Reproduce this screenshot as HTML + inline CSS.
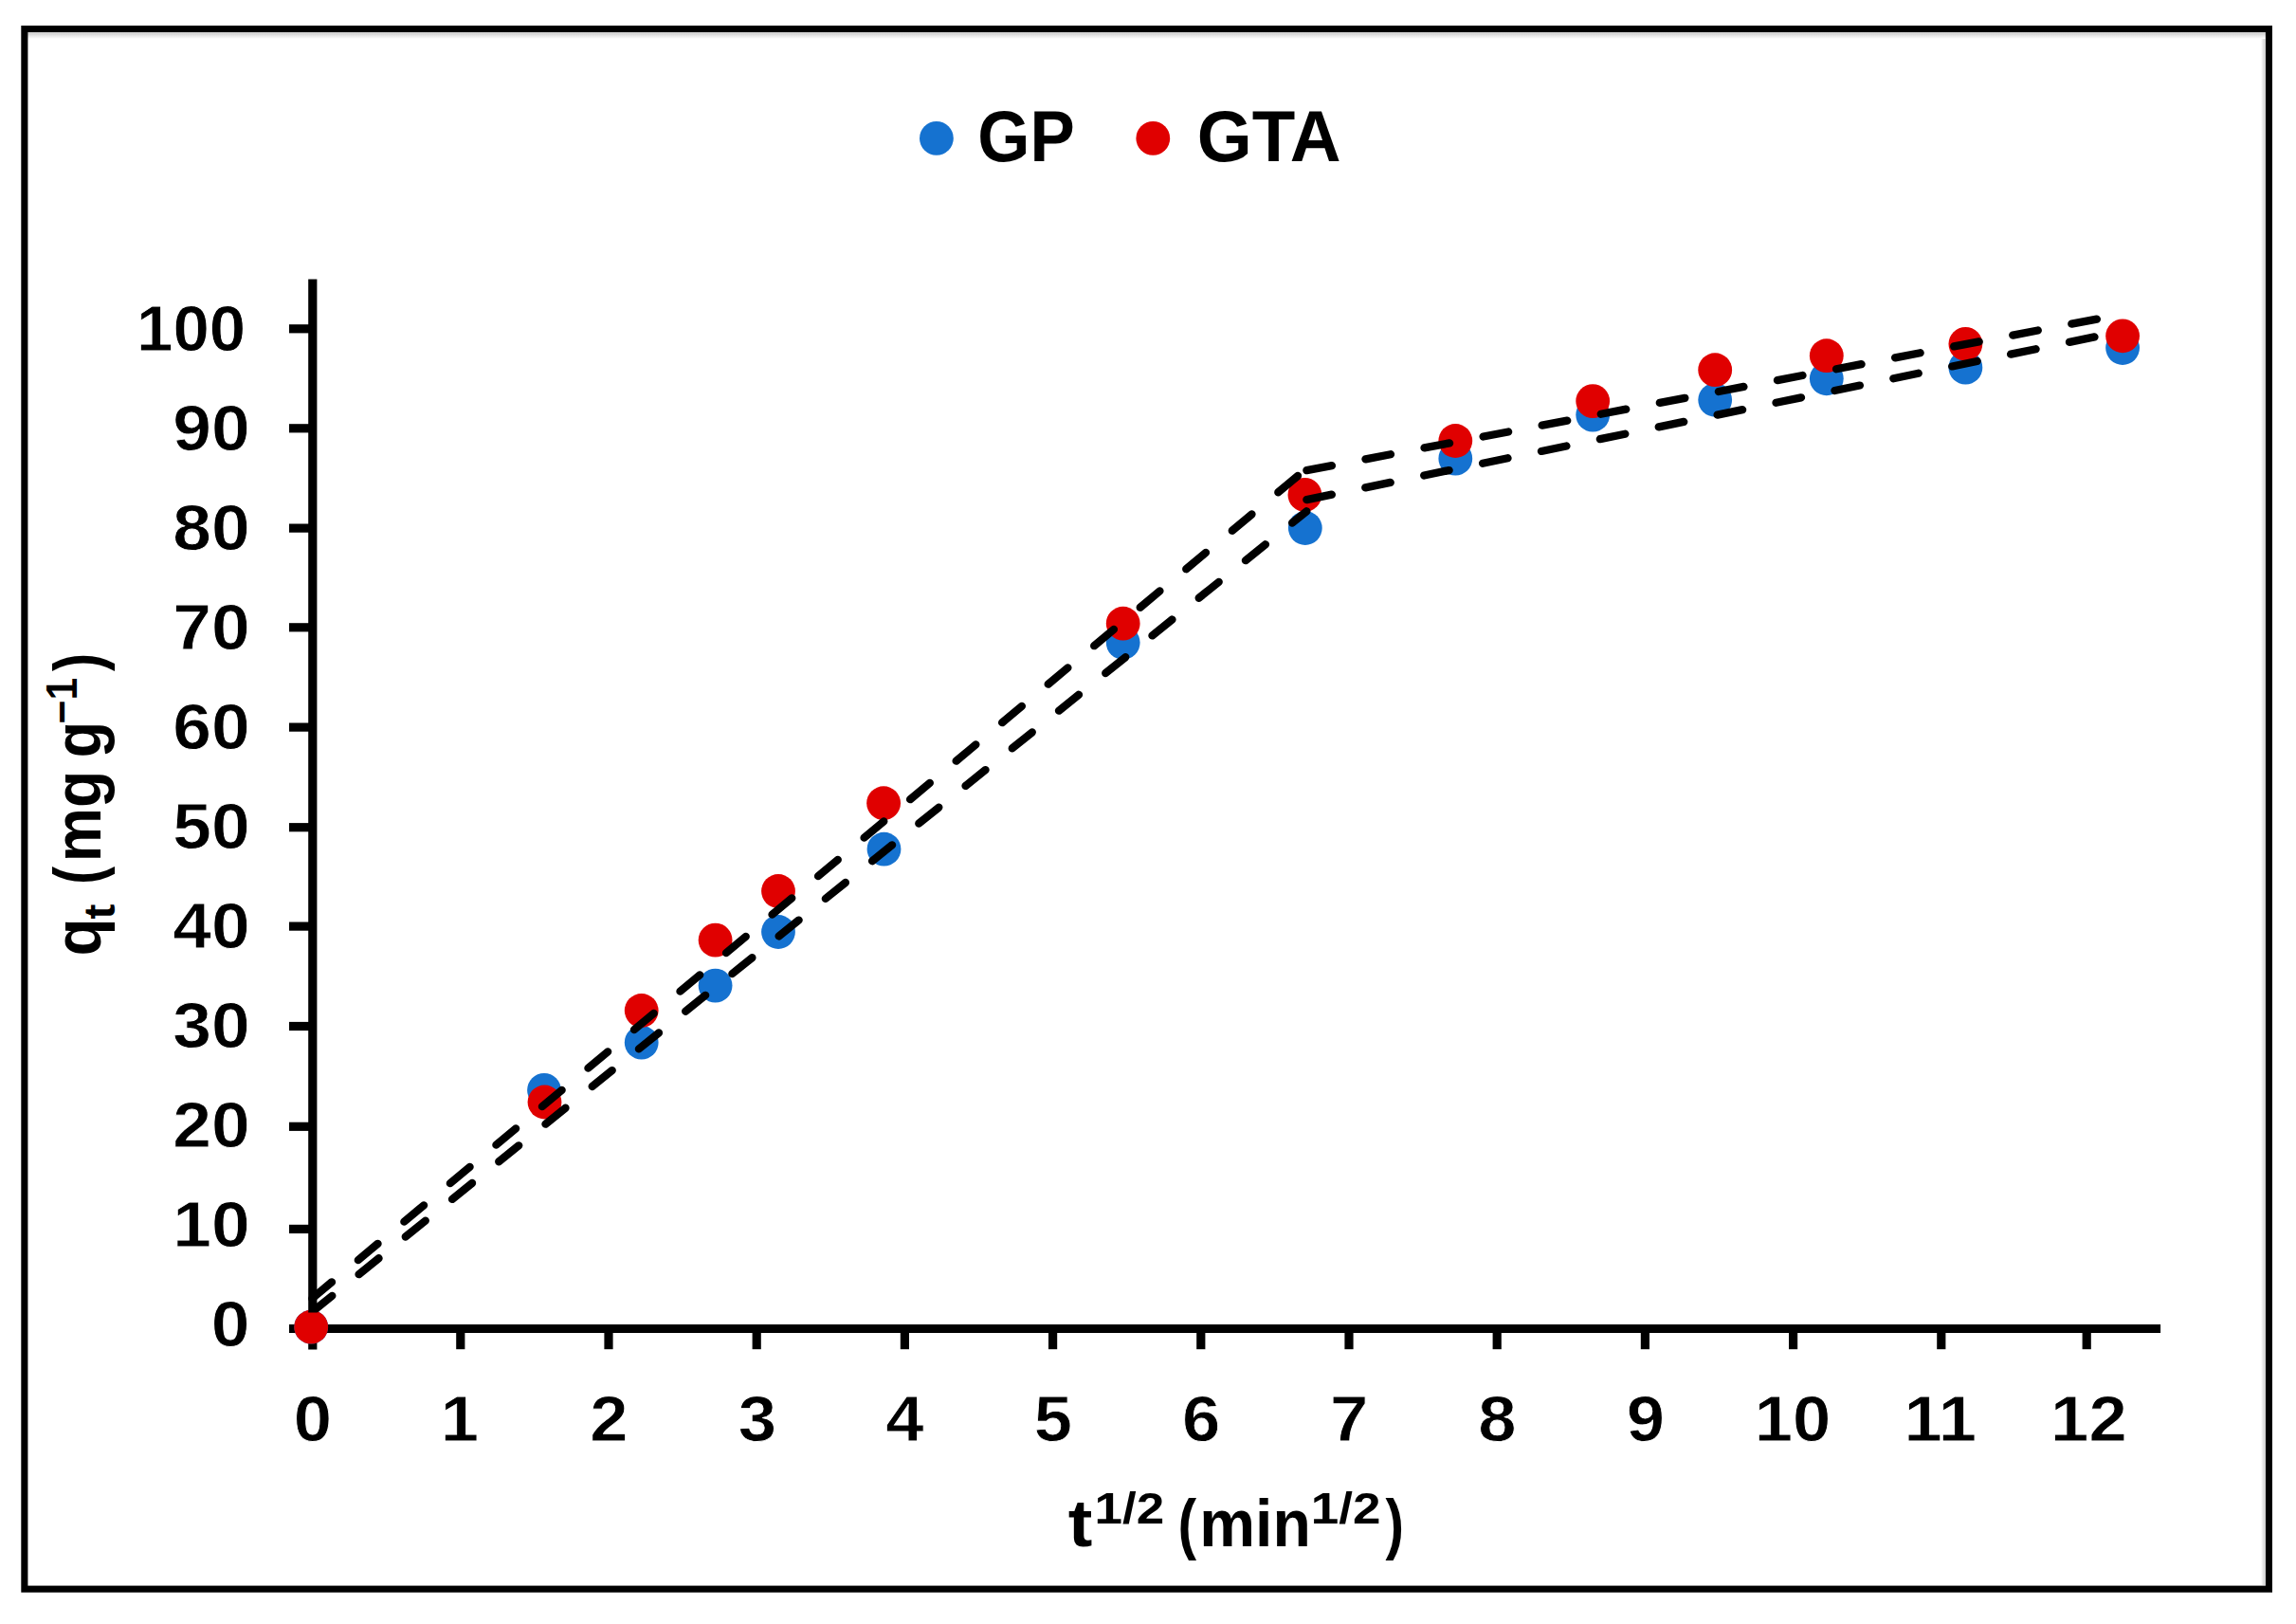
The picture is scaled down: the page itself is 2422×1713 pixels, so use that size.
<!DOCTYPE html>
<html lang="en"><head><meta charset="utf-8"><title>Intraparticle diffusion plot</title>
<style>html,body{margin:0;padding:0;background:#fff;}body{width:2422px;height:1713px;overflow:hidden;}svg{display:block;}text,.lb{font-family:"Liberation Sans",sans-serif;font-weight:bold;}</style>
</head><body>
<svg width="2422" height="1713" viewBox="0 0 2422 1713">
<rect x="0" y="0" width="2422" height="1713" fill="#fff"/>
<defs><linearGradient id="gt" x1="0" y1="0" x2="0" y2="1"><stop offset="0" stop-color="#fff"/><stop offset="0.22" stop-color="#d2d2d2"/><stop offset="0.45" stop-color="#e2e2e2"/><stop offset="1" stop-color="#fff"/></linearGradient><linearGradient id="gr" x1="0" y1="0" x2="1" y2="0"><stop offset="0" stop-color="#fff"/><stop offset="0.55" stop-color="#e0e0e0"/><stop offset="0.8" stop-color="#d3d3d3"/><stop offset="1" stop-color="#fff"/></linearGradient></defs>
<rect x="2385" y="38" width="5" height="1634" fill="url(#gr)"/>
<rect x="29" y="34" width="2361" height="7" fill="url(#gt)"/>
<rect x="25.85" y="30.55" width="2367.60" height="1645.60" fill="none" stroke="#000" stroke-width="7.1"/>
<g stroke="#000" stroke-width="9.2" fill="none">
<line x1="329.8" y1="294.5" x2="329.8" y2="1423.5"/>
<line x1="305" y1="1401.5" x2="2279.1" y2="1401.5"/>
<line x1="305" y1="346.80" x2="329.8" y2="346.80"/>
<line x1="305" y1="451.80" x2="329.8" y2="451.80"/>
<line x1="305" y1="557.10" x2="329.8" y2="557.10"/>
<line x1="305" y1="661.80" x2="329.8" y2="661.80"/>
<line x1="305" y1="767.10" x2="329.8" y2="767.10"/>
<line x1="305" y1="872.70" x2="329.8" y2="872.70"/>
<line x1="305" y1="977.10" x2="329.8" y2="977.10"/>
<line x1="305" y1="1082.50" x2="329.8" y2="1082.50"/>
<line x1="305" y1="1188.30" x2="329.8" y2="1188.30"/>
<line x1="305" y1="1296.40" x2="329.8" y2="1296.40"/>
<line x1="485.80" y1="1401.5" x2="485.80" y2="1423.2"/>
<line x1="642.00" y1="1401.5" x2="642.00" y2="1423.2"/>
<line x1="798.20" y1="1401.5" x2="798.20" y2="1423.2"/>
<line x1="954.40" y1="1401.5" x2="954.40" y2="1423.2"/>
<line x1="1110.60" y1="1401.5" x2="1110.60" y2="1423.2"/>
<line x1="1266.80" y1="1401.5" x2="1266.80" y2="1423.2"/>
<line x1="1423.00" y1="1401.5" x2="1423.00" y2="1423.2"/>
<line x1="1579.20" y1="1401.5" x2="1579.20" y2="1423.2"/>
<line x1="1735.40" y1="1401.5" x2="1735.40" y2="1423.2"/>
<line x1="1891.60" y1="1401.5" x2="1891.60" y2="1423.2"/>
<line x1="2047.80" y1="1401.5" x2="2047.80" y2="1423.2"/>
<line x1="2201.20" y1="1401.5" x2="2201.20" y2="1423.2"/>
</g>
<g class="lb" font-size="69.0" fill="#000" stroke="#fff" stroke-width="0.8">
<text x="222.81" y="1420.40" textLength="40.68" lengthAdjust="spacingAndGlyphs">0</text>
<text x="182.34" y="1315.33" textLength="81.36" lengthAdjust="spacingAndGlyphs">10</text>
<text x="182.34" y="1210.26" textLength="81.36" lengthAdjust="spacingAndGlyphs">20</text>
<text x="182.34" y="1105.19" textLength="81.36" lengthAdjust="spacingAndGlyphs">30</text>
<text x="182.34" y="1000.12" textLength="81.36" lengthAdjust="spacingAndGlyphs">40</text>
<text x="182.34" y="895.05" textLength="81.36" lengthAdjust="spacingAndGlyphs">50</text>
<text x="182.34" y="789.98" textLength="81.36" lengthAdjust="spacingAndGlyphs">60</text>
<text x="182.34" y="684.91" textLength="81.36" lengthAdjust="spacingAndGlyphs">70</text>
<text x="182.34" y="579.84" textLength="81.36" lengthAdjust="spacingAndGlyphs">80</text>
<text x="182.34" y="474.77" textLength="81.36" lengthAdjust="spacingAndGlyphs">90</text>
<text x="144.06" y="369.70" textLength="115.13" lengthAdjust="spacingAndGlyphs">100</text>
<text x="309.73" y="1520.20" textLength="40.30" lengthAdjust="spacingAndGlyphs">0</text>
<text x="464.73" y="1520.20" textLength="40.30" lengthAdjust="spacingAndGlyphs">1</text>
<text x="622.38" y="1520.20" textLength="40.30" lengthAdjust="spacingAndGlyphs">2</text>
<text x="778.82" y="1520.20" textLength="40.30" lengthAdjust="spacingAndGlyphs">3</text>
<text x="934.17" y="1520.20" textLength="40.30" lengthAdjust="spacingAndGlyphs">4</text>
<text x="1090.73" y="1520.20" textLength="40.30" lengthAdjust="spacingAndGlyphs">5</text>
<text x="1246.93" y="1520.20" textLength="40.30" lengthAdjust="spacingAndGlyphs">6</text>
<text x="1403.13" y="1520.20" textLength="40.30" lengthAdjust="spacingAndGlyphs">7</text>
<text x="1559.21" y="1520.20" textLength="40.30" lengthAdjust="spacingAndGlyphs">8</text>
<text x="1715.66" y="1520.20" textLength="40.30" lengthAdjust="spacingAndGlyphs">9</text>
<text x="1850.84" y="1520.20" textLength="80.59" lengthAdjust="spacingAndGlyphs">10</text>
<text x="2008.49" y="1520.20" textLength="76.59" lengthAdjust="spacingAndGlyphs">11</text>
<text x="2163.12" y="1520.20" textLength="80.59" lengthAdjust="spacingAndGlyphs">12</text>
</g>
<g fill="#1572d0">
<circle cx="328.2" cy="1399.7" r="17.9"/>
<circle cx="574" cy="1149.9" r="17.9"/>
<circle cx="676.7" cy="1099.7" r="17.9"/>
<circle cx="754.6" cy="1039.6" r="17.9"/>
<circle cx="821" cy="983" r="17.9"/>
<circle cx="932.5" cy="895.7" r="17.9"/>
<circle cx="1184.7" cy="677.8" r="17.9"/>
<circle cx="1376.8" cy="557" r="17.9"/>
<circle cx="1535.3" cy="483.7" r="17.9"/>
<circle cx="1680.2" cy="437.6" r="17.9"/>
<circle cx="1809.2" cy="421.8" r="17.9"/>
<circle cx="1926.8" cy="399.3" r="17.9"/>
<circle cx="2073.4" cy="387.7" r="17.9"/>
<circle cx="2239.1" cy="367" r="17.9"/>
</g>
<g fill="#e00000">
<circle cx="328.2" cy="1399.7" r="17.9"/>
<circle cx="574.5" cy="1162.5" r="17.9"/>
<circle cx="676.7" cy="1066" r="17.9"/>
<circle cx="754.6" cy="991.6" r="17.9"/>
<circle cx="821" cy="940" r="17.9"/>
<circle cx="932.1" cy="847.2" r="17.9"/>
<circle cx="1184.7" cy="657.7" r="17.9"/>
<circle cx="1376.4" cy="521.9" r="17.9"/>
<circle cx="1535.3" cy="465" r="17.9"/>
<circle cx="1680.2" cy="423.1" r="17.9"/>
<circle cx="1809.2" cy="390.2" r="17.9"/>
<circle cx="1926.8" cy="375.2" r="17.9"/>
<circle cx="2073.4" cy="362.8" r="17.9"/>
<circle cx="2239.1" cy="354.3" r="17.9"/>
</g>
<clipPath id="lc"><rect x="300" y="280" width="2000" height="1104.6"/></clipPath>
<g clip-path="url(#lc)" stroke="#000" stroke-width="8.3" stroke-linecap="round" fill="none" stroke-dasharray="27 36.2">
<line x1="329.30" y1="1369.60" x2="1378.40" y2="494.13"/>
<line x1="329.30" y1="1383.80" x2="1378.40" y2="539.27"/>
<line x1="1378.40" y1="496.20" x2="2239.00" y2="331.40"/>
<line x1="1378.40" y1="527.10" x2="2239.00" y2="349.30"/>
</g>
<circle cx="987.9" cy="145.9" r="17.9" fill="#1572d0"/>
<circle cx="1216.3" cy="145.9" r="17.9" fill="#e00000"/>
<text class="lb" font-size="75.5" x="1031.36" y="170.30" textLength="102.40" lengthAdjust="spacingAndGlyphs">GP</text>
<text class="lb" font-size="75.5" x="1262.82" y="170.30" textLength="151.77" lengthAdjust="spacingAndGlyphs">GTA</text>
<text xml:space="preserve" class="lb" font-size="69.5"><tspan x="1126.87" y="1630.50" font-size="69.5" textLength="25.63" lengthAdjust="spacingAndGlyphs">t</tspan><tspan x="1154.64" y="1606.90" font-size="46.0" textLength="88.41" lengthAdjust="spacingAndGlyphs">1/2 </tspan><tspan x="1242.45" y="1630.50" font-size="69.5" textLength="19.62" lengthAdjust="spacingAndGlyphs">(</tspan><tspan x="1265.29" y="1630.50" font-size="69.5" textLength="117.55" lengthAdjust="spacingAndGlyphs">min</tspan><tspan x="1382.74" y="1606.90" font-size="46.0" textLength="73.69" lengthAdjust="spacingAndGlyphs">1/2</tspan><tspan x="1461.60" y="1630.50" font-size="69.5" textLength="19.51" lengthAdjust="spacingAndGlyphs">)</tspan></text>
<text xml:space="preserve" class="lb" font-size="69.5" transform="translate(106.4 1006.3) rotate(-90)"><tspan x="-2.22" y="0.00" font-size="69.5" textLength="40.05" lengthAdjust="spacingAndGlyphs">q</tspan><tspan x="36.86" y="14.20" font-size="46.0" textLength="29.28" lengthAdjust="spacingAndGlyphs">t </tspan><tspan x="73.46" y="0.00" font-size="69.5" textLength="18.91" lengthAdjust="spacingAndGlyphs">(</tspan><tspan x="97.01" y="0.00" font-size="69.5" textLength="114.48" lengthAdjust="spacingAndGlyphs">mg </tspan><tspan x="206.99" y="0.00" font-size="69.5" textLength="38.35" lengthAdjust="spacingAndGlyphs">g</tspan><tspan x="242.79" y="-25.00" font-size="46.0" textLength="48.65" lengthAdjust="spacingAndGlyphs">−1</tspan><tspan x="298.21" y="0.00" font-size="69.5" textLength="19.03" lengthAdjust="spacingAndGlyphs">)</tspan></text>
</svg>
</body></html>
